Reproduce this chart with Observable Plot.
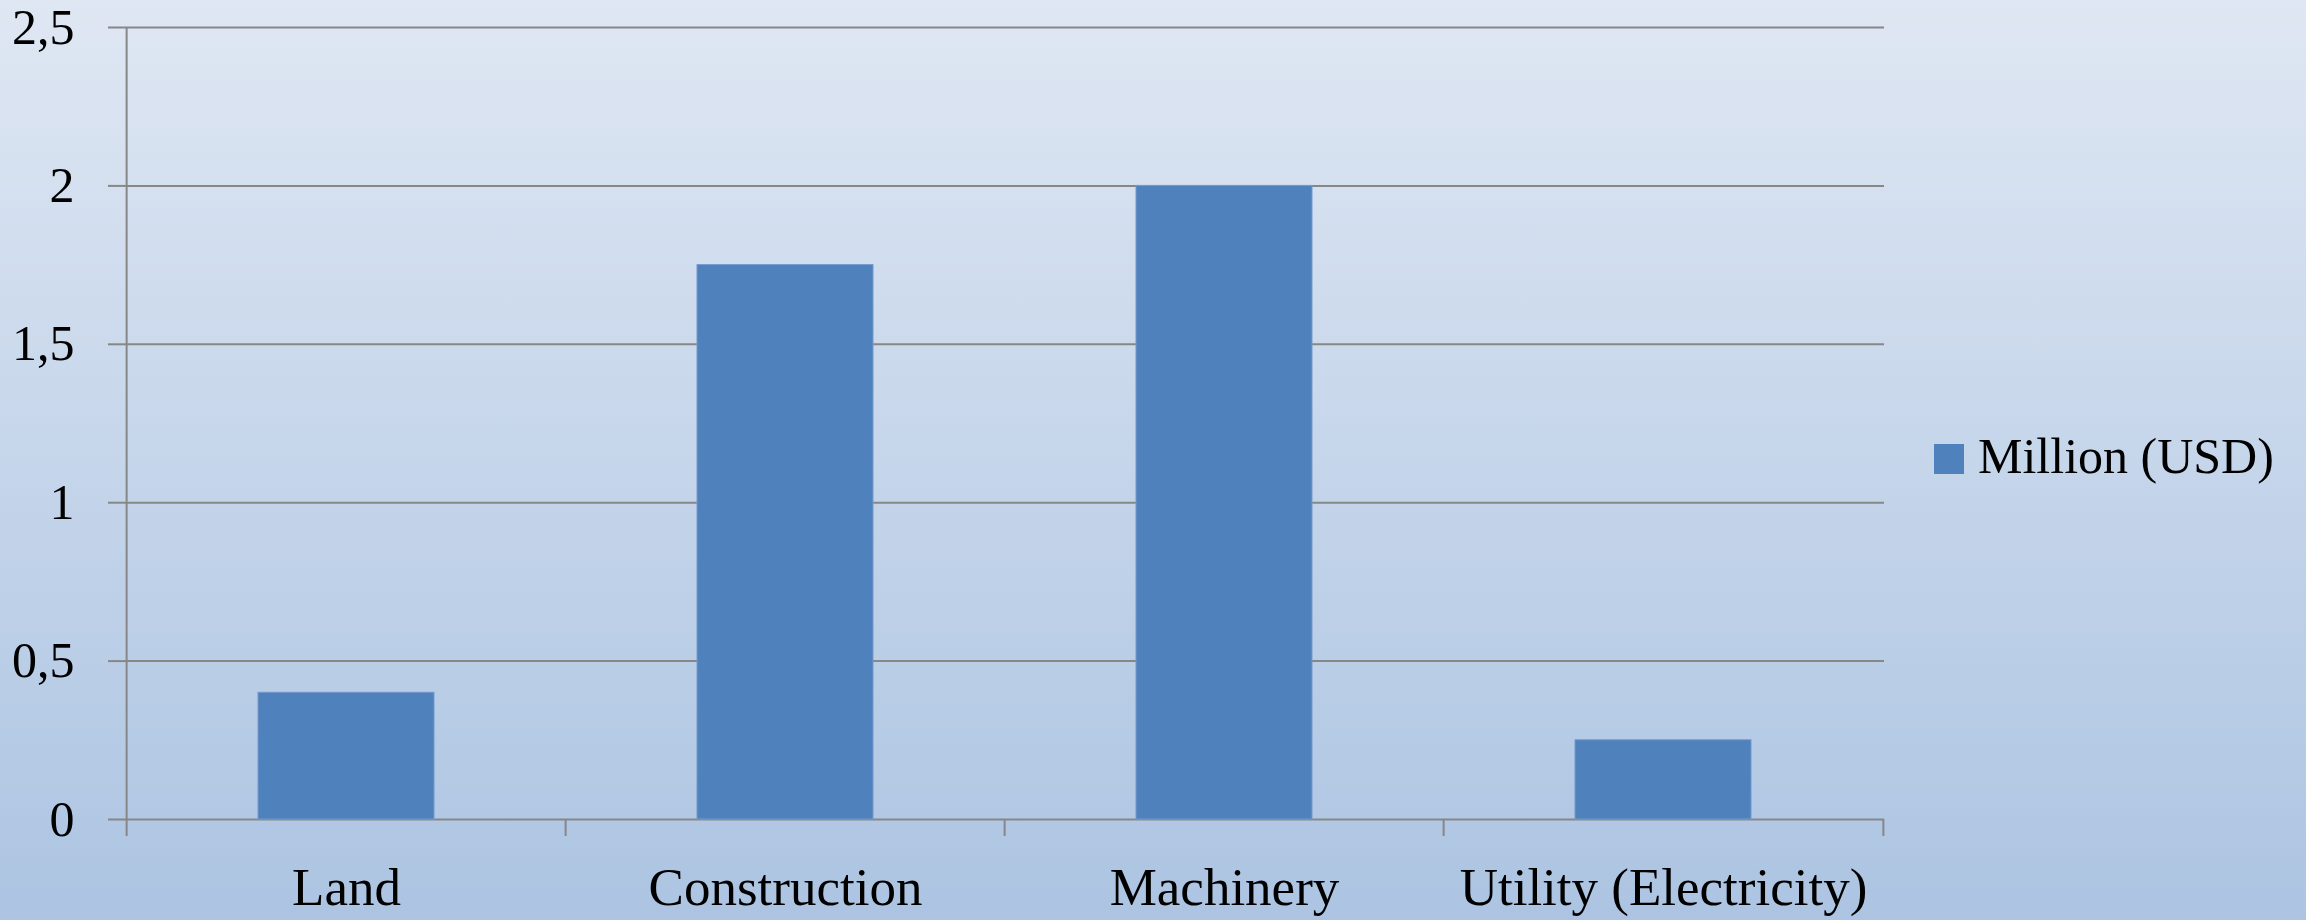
<!DOCTYPE html>
<html><head><meta charset="utf-8">
<script src="https://cdn.jsdelivr.net/npm/d3@7"></script>
<script src="https://cdn.jsdelivr.net/npm/@observablehq/plot@0.6"></script>
<style>
html,body{margin:0;padding:0;}
body{width:2306px;height:920px;background:linear-gradient(to bottom,#dfe7f3,#acc4e2);position:relative;overflow:hidden;font-family:"Liberation Serif",serif;}
#chart{position:absolute;left:0;top:0;}
#legend-swatch{position:absolute;left:1934px;top:444px;width:30px;height:30px;background:#4f81bd;}
#legend-text{position:absolute;left:1978px;top:431px;font-size:50px;line-height:50px;color:#000;white-space:nowrap;}
</style>
</head><body>
<div id="chart"></div>
<div id="legend-swatch"></div>
<div id="legend-text"></div>
<script>
const categories = ["Land", "Construction", "Machinery", "Utility (Electricity)"];
const values = [0.4, 1.75, 2.0, 0.25];
const yTicks = [0, 0.5, 1, 1.5, 2, 2.5];
const yTickLabels = ["0", "0,5", "1", "1,5", "2", "2,5"];
const seriesName = "Million (USD)";

const W = 2306, H = 920, mL = 125, mR = 422, mT = 27, mB = 101;
const step = (W - mL - mR) / categories.length;
const data = categories.map((c, i) => ({category: c, value: values[i]}));
const grid = "#878787";
const last = categories[categories.length - 1];

const plot = Plot.plot({
  width: W, height: H,
  marginLeft: mL, marginRight: mR, marginTop: mT, marginBottom: mB,
  style: {background: "transparent", fontFamily: '"Liberation Serif", serif', fontSize: "50px", color: "#000", overflow: "visible"},
  x: {domain: categories, paddingInner: 0.6, paddingOuter: 0.3, label: null},
  y: {domain: [0, 2.5], label: null},
  marks: [
    Plot.gridY(yTicks, {stroke: grid, strokeOpacity: 1, strokeWidth: 2}),
    Plot.axisY(yTicks, {tickSize: 17, tickPadding: 34, stroke: grid, strokeWidth: 2, strokeOpacity: 1,
      tickFormat: d => yTickLabels[yTicks.indexOf(d)], label: null}),
    Plot.ruleX([categories[0]], {x: d => d, y1: 2.5, y2: 0, dx: -step / 2, insetBottom: -17, stroke: grid, strokeWidth: 2}),
    Plot.ruleX(categories.slice(1), {x: d => d, y1: 0, y2: 0, dx: -step / 2, insetBottom: -17, stroke: grid, strokeWidth: 2}),
    Plot.ruleX([last], {x: d => d, y1: 0, y2: 0, dx: step / 2, insetBottom: -17, stroke: grid, strokeWidth: 2}),
    Plot.barY(data, {x: "category", y: "value", fill: "#4f81bd", stroke: "#7499cc", strokeWidth: 1}),
    Plot.axisX({tickSize: 0, tickPadding: 48, fontSize: 53, label: null})
  ]
});
document.getElementById("chart").appendChild(plot);
document.getElementById("legend-text").textContent = seriesName;
</script>
</body></html>
